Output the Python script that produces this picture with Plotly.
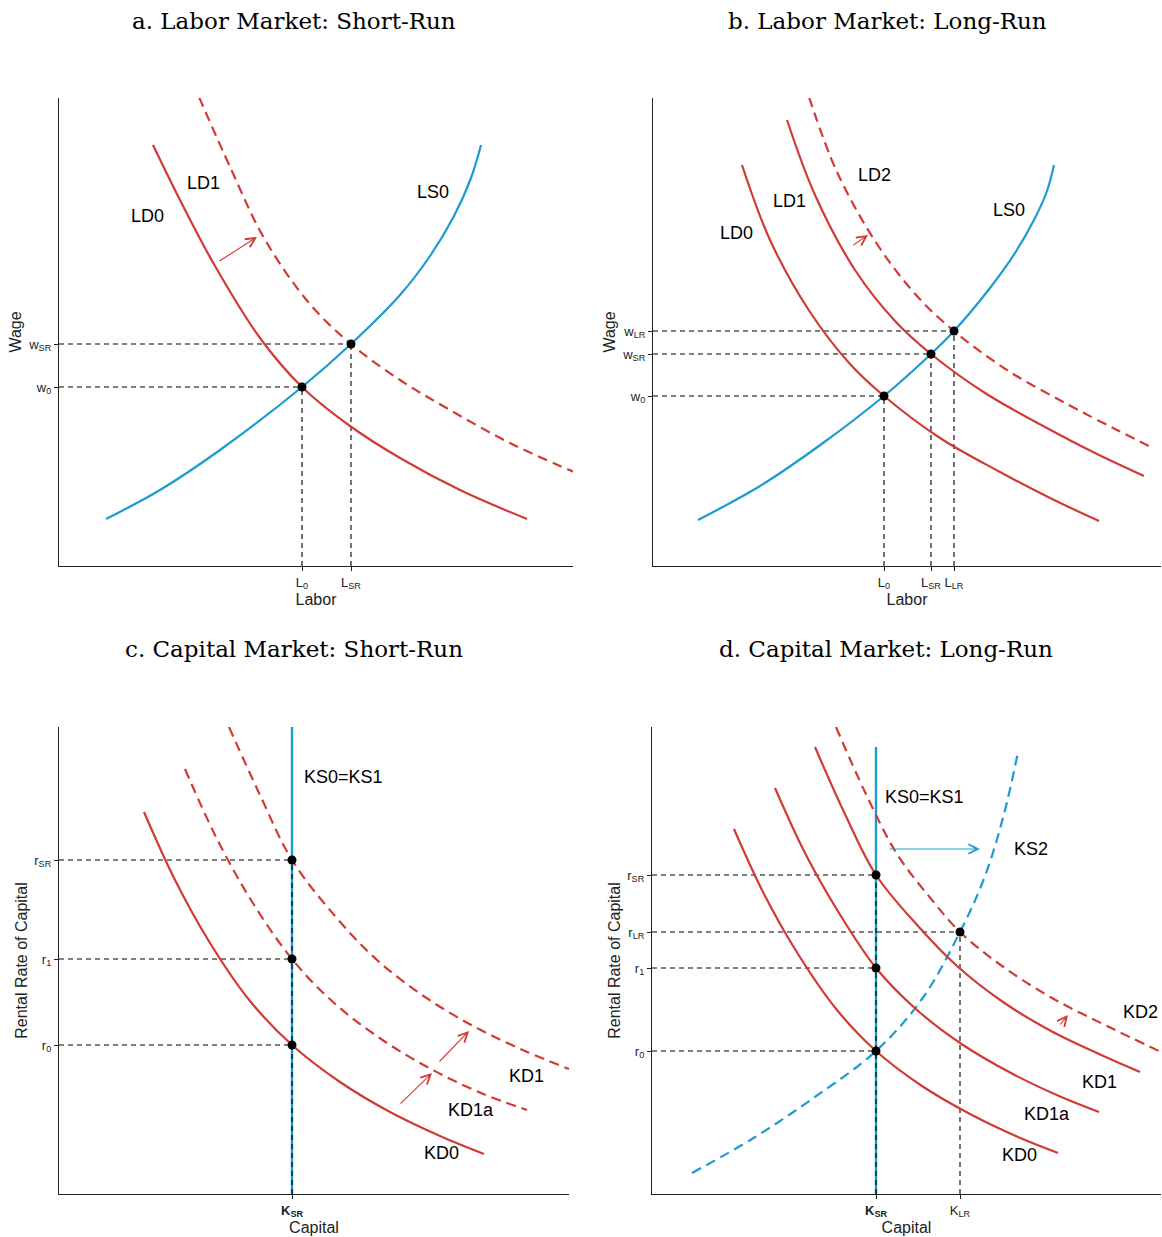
import plotly.graph_objects as go

RED = "#d13a35"
BLUE = "#1b9bd1"
SANS = "Liberation Sans, Arial, sans-serif"
SERIF = "DejaVu Serif, serif"

# ---------------- data (panel units: x to the right of the y-axis, y above the x-axis) -------------
# Panel a: Labor market, short run
a_LS0_x = [47, 101, 161, 243, 292, 341, 371, 395, 412, 422]
a_LS0_y = [47, 76, 116, 179, 222, 271, 310, 350, 388, 421]
a_LD0_x = [94, 121, 156, 201, 243, 291, 341, 401, 468]
a_LD0_y = [421, 366, 300, 228, 179, 140, 108, 76, 47]
a_LD1_x = [140, 172, 205, 250, 292, 341, 391, 451, 515]
a_LD1_y = [469, 397, 328, 263, 222, 186, 156, 123, 94]
a_eq_x = [243, 292]
a_eq_y = [179, 222]
a_xticks = ["L<sub>0</sub>", "L<sub>SR</sub>"]
a_yticks = ["w<sub>0</sub>", "w<sub>SR</sub>"]

# Panel b: Labor market, long run
b_LS0_x = [45, 107, 170, 231, 278, 301, 337, 362, 382, 394, 401]
b_LS0_y = [46, 80, 123, 170, 212, 235, 278, 313, 348, 375, 401]
b_LD0_x = [89, 117, 157, 197, 231, 287, 347, 397, 446]
b_LD0_y = [401, 326, 254, 202, 170, 128, 94, 68, 45]
b_LD1_x = [134, 162, 202, 242, 278, 332, 392, 442, 491]
b_LD1_y = [446, 371, 296, 245, 212, 173, 139, 113, 90]
b_LD2_x = [156, 184, 224, 264, 301, 354, 414, 464, 500]
b_LD2_y = [469, 394, 322, 270, 235, 196, 162, 136, 118]
b_eq_x = [231, 278, 301]
b_eq_y = [170, 212, 235]
b_xticks = ["L<sub>0</sub>", "L<sub>SR</sub>", "L<sub>LR</sub>"]
b_yticks = ["w<sub>0</sub>", "w<sub>SR</sub>", "w<sub>LR</sub>"]

# Panel c: Capital market, short run
c_KS_x = 233
c_KD0_x = [85, 116, 151, 191, 233, 281, 331, 381, 425]
c_KD0_y = [382, 314, 251, 193, 149, 112, 82, 58, 40]
c_KD1a_x = [126, 157, 192, 233, 274, 322, 372, 422, 468]
c_KD1a_y = [425, 357, 294, 235, 192, 155, 125, 101, 84]
c_KD1_x = [170, 201, 233, 276, 318, 366, 416, 466, 510]
c_KD1_y = [467, 399, 334, 278, 234, 197, 167, 143, 125]
c_eq_y = [149, 235, 334]
c_xticks = ["<b>K<sub>SR</sub></b>"]
c_yticks = ["r<sub>0</sub>", "r<sub>1</sub>", "r<sub>SR</sub>"]

# Panel d: Capital market, long run
d_KS_x = 224
d_KS_top = 447
d_KS2_x = [40, 100, 160, 224, 270, 308, 333, 352, 366]
d_KS2_y = [21, 55, 95, 143, 195, 262, 318, 380, 442]
d_KD0_x = [82, 112, 146, 185, 224, 270, 318, 366, 406]
d_KD0_y = [365, 300, 240, 184, 143, 108, 80, 57, 41]
d_KD1a_x = [123, 153, 187, 224, 265, 311, 359, 407, 447]
d_KD1a_y = [406, 341, 281, 226, 184, 149, 121, 98, 82]
d_KD1_x = [163, 192, 224, 266, 305, 351, 399, 447, 488]
d_KD1_y = [447, 382, 319, 268, 228, 192, 163, 140, 122]
d_KD2_x = [184, 213, 245, 280, 308, 350, 400, 455, 509]
d_KD2_y = [467, 402, 340, 294, 262, 228, 196, 168, 142]
d_eq_x = [224, 224, 224, 308]
d_eq_y = [143, 226, 319, 262]
d_xticks = ["<b>K<sub>SR</sub></b>", "K<sub>LR</sub>"]
d_yticks = ["r<sub>0</sub>", "r<sub>1</sub>", "r<sub>SR</sub>", "r<sub>LR</sub>"]

titles = ["a. Labor Market: Short-Run", "b. Labor Market: Long-Run",
          "c. Capital Market: Short-Run", "d. Capital Market: Long-Run"]

# ---------------- layout geometry (pixels) -------------
W, H = 1162, 1237
# left, right, top, bottom of each panel's axes
panels = [(59, 573, 98, 566), (653, 1161, 98, 566), (59, 569, 727, 1194), (652, 1161, 727, 1194)]

fig = go.Figure()


def ax(i):
    return ("x" if i == 0 else f"x{i+1}", "y" if i == 0 else f"y{i+1}")


def curve(i, xs, ys, color, dash="solid", width=2.2):
    xa, ya = ax(i)
    fig.add_trace(go.Scatter(x=xs, y=ys, mode="lines", xaxis=xa, yaxis=ya,
                             line=dict(color=color, width=width, dash=dash, shape="spline", smoothing=1.0),
                             hoverinfo="skip", showlegend=False))


def guide(i, xs, ys):
    xa, ya = ax(i)
    fig.add_trace(go.Scatter(x=xs, y=ys, mode="lines", xaxis=xa, yaxis=ya,
                             line=dict(color="black", width=1.1, dash="5px,4px"),
                             hoverinfo="skip", showlegend=False))


def dots(i, xs, ys):
    xa, ya = ax(i)
    fig.add_trace(go.Scatter(x=xs, y=ys, mode="markers", xaxis=xa, yaxis=ya,
                             marker=dict(color="black", size=9),
                             hoverinfo="skip", showlegend=False))


def label(i, x, y, text, size=18):
    xa, ya = ax(i)
    fig.add_annotation(x=x, y=y, xref=xa, yref=ya, text=text, showarrow=False,
                       font=dict(family=SANS, size=size, color="black"))


def arrow(i, x0, y0, x1, y1, color):
    xa, ya = ax(i)
    fig.add_annotation(x=x1, y=y1, ax=x0, ay=y0, xref=xa, yref=ya, axref=xa, ayref=ya,
                       text="", showarrow=True, arrowhead=5, arrowsize=1.7, arrowwidth=1.1,
                       arrowcolor=color)


DASH = "10px,6px"

# Panel a
for x, y in zip(a_eq_x, a_eq_y):
    guide(0, [0, x], [y, y])
    guide(0, [x, x], [0, y])
curve(0, a_LS0_x, a_LS0_y, BLUE)
curve(0, a_LD0_x, a_LD0_y, RED)
curve(0, a_LD1_x, a_LD1_y, RED, DASH)
dots(0, a_eq_x, a_eq_y)
label(0, 144, 383, "LD1")
label(0, 88, 350, "LD0")
label(0, 374, 374, "LS0")
arrow(0, 159, 304, 198, 329, RED)

# Panel b
for x, y in zip(b_eq_x, b_eq_y):
    guide(1, [0, x], [y, y])
    guide(1, [x, x], [0, y])
curve(1, b_LS0_x, b_LS0_y, BLUE)
curve(1, b_LD0_x, b_LD0_y, RED)
curve(1, b_LD1_x, b_LD1_y, RED)
curve(1, b_LD2_x, b_LD2_y, RED, DASH)
dots(1, b_eq_x, b_eq_y)
label(1, 222, 391, "LD2")
label(1, 137, 365, "LD1")
label(1, 84, 333, "LD0")
label(1, 356, 356, "LS0")
arrow(1, 199, 320, 215, 331, RED)

# Panel c
curve(2, [c_KS_x, c_KS_x], [0, 467], BLUE, width=2.4)
for y in c_eq_y:
    guide(2, [0, c_KS_x], [y, y])
guide(2, [c_KS_x, c_KS_x], [0, max(c_eq_y)])
curve(2, c_KD0_x, c_KD0_y, RED)
curve(2, c_KD1a_x, c_KD1a_y, RED, DASH)
curve(2, c_KD1_x, c_KD1_y, RED, DASH)
dots(2, [c_KS_x] * len(c_eq_y), c_eq_y)
label(2, 284, 417, "KS0=KS1")
label(2, 467, 118, "KD1")
label(2, 412, 84, "KD1a")
label(2, 382, 41, "KD0")
arrow(2, 340, 89, 373, 121, RED)
arrow(2, 379, 131, 410, 163, RED)

# Panel d
curve(3, [d_KS_x, d_KS_x], [0, d_KS_top], BLUE, width=2.4)
curve(3, d_KS2_x, d_KS2_y, BLUE, DASH)
for x, y in zip(d_eq_x, d_eq_y):
    guide(3, [0, x], [y, y])
guide(3, [d_KS_x, d_KS_x], [0, max(d_eq_y)])
guide(3, [d_eq_x[-1], d_eq_x[-1]], [0, d_eq_y[-1]])
curve(3, d_KD0_x, d_KD0_y, RED)
curve(3, d_KD1a_x, d_KD1a_y, RED)
curve(3, d_KD1_x, d_KD1_y, RED)
curve(3, d_KD2_x, d_KD2_y, RED, DASH)
dots(3, d_eq_x, d_eq_y)
label(3, 272, 397, "KS0=KS1")
label(3, 379, 345, "KS2")
label(3, 488, 182, "KD2")
label(3, 447, 112, "KD1")
label(3, 395, 80, "KD1a")
label(3, 367, 39, "KD0")
arrow(3, 236, 345, 328, 345, BLUE)
arrow(3, 407, 168, 416, 179, RED)

# ---------------- axes -------------
xtick_sets = [(a_eq_x, a_xticks), (b_eq_x, b_xticks), ([c_KS_x], c_xticks), ([d_KS_x, d_eq_x[-1]], d_xticks)]
ytick_sets = [(a_eq_y, a_yticks), (b_eq_y, b_yticks), (c_eq_y, c_yticks),
              ([d_eq_y[0], d_eq_y[1], d_eq_y[2], d_eq_y[3]], d_yticks)]
xtitles = ["Labor", "Labor", "Capital", "Capital"]
ytitles = ["Wage", "Wage", "Rental Rate of Capital", "Rental Rate of Capital"]

layout = dict(width=W, height=H, margin=dict(l=0, r=0, t=0, b=0),
              paper_bgcolor="white", plot_bgcolor="white", showlegend=False)
for i, (l, r, t, b) in enumerate(panels):
    sfx = "" if i == 0 else str(i + 1)
    xa, ya = ax(i)
    common = dict(showgrid=False, zeroline=False, showline=True, linecolor="#222", linewidth=1.3,
                  ticks="outside", ticklen=4, tickwidth=1, tickcolor="#222", automargin=False,
                  tickfont=dict(family=SANS, size=13, color="#222"), fixedrange=True)
    layout["xaxis" + sfx] = dict(common, domain=[l / W, r / W], range=[0, r - l], anchor=ya,
                                 tickmode="array", tickvals=xtick_sets[i][0], ticktext=xtick_sets[i][1],
                                 title=dict(text=xtitles[i], standoff=0,
                                            font=dict(family=SANS, size=16, color="#222")))
    layout["yaxis" + sfx] = dict(common, domain=[1 - b / H, 1 - t / H], range=[0, b - t], anchor=xa,
                                 tickmode="array", tickvals=ytick_sets[i][0], ticktext=ytick_sets[i][1],
                                 title=dict(text=ytitles[i], standoff=2,
                                            font=dict(family=SANS, size=16, color="#222")))
fig.update_layout(**layout)

title_pos = [(294, 21), (887, 21), (294, 649), (886, 649)]
for (x, y), txt in zip(title_pos, titles):
    fig.add_annotation(x=x / W, y=1 - y / H, xref="paper", yref="paper", text=txt, showarrow=False,
                       font=dict(family=SERIF, size=23, color="black"), xanchor="center", yanchor="middle")

fig.write_html("out.html")
